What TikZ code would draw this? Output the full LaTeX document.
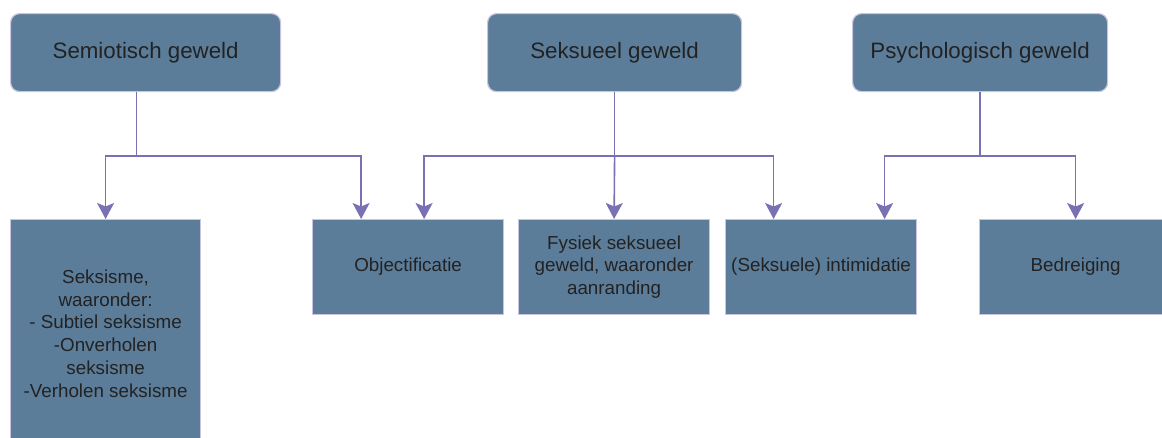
\documentclass[tikz,border=0pt]{standalone}
\usepackage{fontspec}
\setmainfont{Liberation Sans}
\usetikzlibrary{positioning, arrows.meta, calc}
\definecolor{boxFill}{RGB}{92,125,153}
\definecolor{boxLine}{RGB}{200,196,226}
\definecolor{linkCol}{RGB}{122,112,180}
\definecolor{textCol}{RGB}{34,34,34}

\begin{document}
\begin{tikzpicture}[x=1pt, y=-1pt,
    topBox/.style={draw=boxLine, line width=1.2pt, fill=boxFill, rounded corners=9pt,
        minimum height=78pt, inner sep=0pt, anchor=north west, text=textCol,
        font=\fontsize{22.3}{26}\selectfont},
    leafBox/.style={draw=boxLine, line width=1.2pt, fill=boxFill,
        minimum width=191pt, minimum height=95pt, inner sep=0pt, anchor=north west,
        text=textCol, align=center, font=\fontsize{18.8}{22.8}\selectfont},
    link/.style={draw=linkCol, line width=1.6pt},
    linkArrow/.style={link, -{Stealth[length=16pt, width=17pt, inset=3.5pt]}}]
    \useasboundingbox (0,0) rectangle (1162,437);

    % Soorten geweld (bovenste rij)
    \node[topBox, minimum width=270pt] (semBox) at (10,13) {Semiotisch geweld};
    \node[topBox, minimum width=254pt] (sexBox) at (487,13) {Seksueel geweld};
    \node[topBox, minimum width=255pt] (psyBox) at (852,13) {Psychologisch geweld};

    % Vormen (onderste rij)
    \node[leafBox, minimum width=190pt, minimum height=228pt] (sexismBox) at (10,219)
        {Seksisme,\\waaronder:\\- Subtiel seksisme\\-Onverholen\\seksisme\\-Verholen seksisme};
    \node[leafBox] (objBox) at (312,219) {Objectificatie};
    \node[leafBox] (fysBox) at (518,219) {Fysiek seksueel\\geweld, waaronder\\aanranding};
    \node[leafBox] (intBox) at (725,219) {(Seksuele) intimidatie};
    \node[leafBox, minimum width=192pt] (bedBox) at (979,219) {Bedreiging};

    % Verbindingen vanuit semiotisch geweld
    \draw[link] ([xshift=-9pt]semBox.south) -- ++(0,64) coordinate (semJ);
    \draw[linkArrow] (semJ) -| (sexismBox.north);
    \draw[linkArrow] (semJ) -| ([xshift=-47pt]objBox.north);

    % Verbindingen vanuit seksueel geweld
    \draw[link] (sexBox.south) -- ++(0,64) coordinate (sexJ);
    \draw[linkArrow] (sexJ) -| ([xshift=16pt]objBox.north);
    \draw[linkArrow] (sexJ) -- (fysBox.north);
    \draw[linkArrow] (sexJ) -| ([xshift=-47.5pt]intBox.north);

    % Verbindingen vanuit psychologisch geweld
    \draw[link] (psyBox.south) -- ++(0,64) coordinate (psyJ);
    \draw[linkArrow] (psyJ) -| ([xshift=63.5pt]intBox.north);
    \draw[linkArrow] (psyJ) -| (bedBox.north);
\end{tikzpicture}
\end{document}
